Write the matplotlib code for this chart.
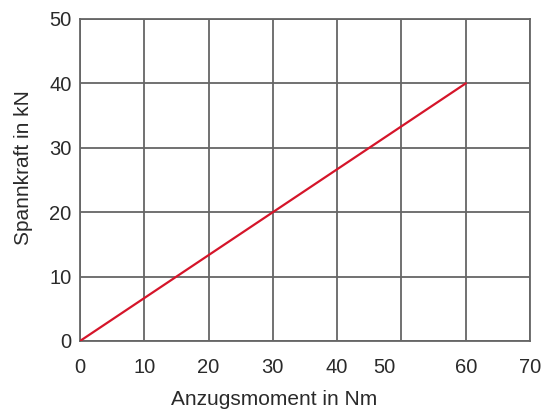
import matplotlib.pyplot as plt

# Data
moment = [0, 60]          # Anzugsmoment in Nm
force = [0, 40]           # Spannkraft in kN
grid_x = [0, 10, 20, 30, 40, 50, 60, 70]
grid_y = [0, 10, 20, 30, 40, 50]
xtick_pos = [0, 10, 20, 30, 40, 47.4, 60, 70]
xtick_labels = ['0', '10', '20', '30', '40', '50', '60', '70']

plt.rcParams['font.family'] = ['Liberation Sans', 'DejaVu Sans']

fig = plt.figure(figsize=(5.49, 4.12), dpi=100)
ax = fig.add_axes([80 / 549, 1 - 341 / 412, 450 / 549, 322 / 412])

# grid lines
for gx in grid_x:
    ax.axvline(gx, color='#666666', lw=1.3, zorder=1)
for gy in grid_y:
    ax.axhline(gy, color='#666666', lw=1.3, zorder=1)

ax.plot(moment, force, color='#d5152a', lw=1.6, zorder=3)

ax.set_xlim(0, 70)
ax.set_ylim(0, 50)
ax.set_xticks(xtick_pos)
ax.set_xticklabels(xtick_labels)
ax.set_yticks(grid_y)
ax.tick_params(length=0, labelsize=14.5, colors='#2a2a2a')
ax.tick_params(axis='x', pad=12)
ax.tick_params(axis='y', pad=6)
for s in ax.spines.values():
    s.set_color('#666666')
    s.set_linewidth(1.3)

ax.set_xlabel('Anzugsmoment in Nm', fontsize=15, color='#2a2a2a')
ax.xaxis.set_label_coords(0.431, -0.152)
ax.set_ylabel('Spannkraft in kN', fontsize=15, color='#2a2a2a')
ax.yaxis.set_label_coords(-0.105, 0.54)

plt.savefig('out.png', dpi=100)
